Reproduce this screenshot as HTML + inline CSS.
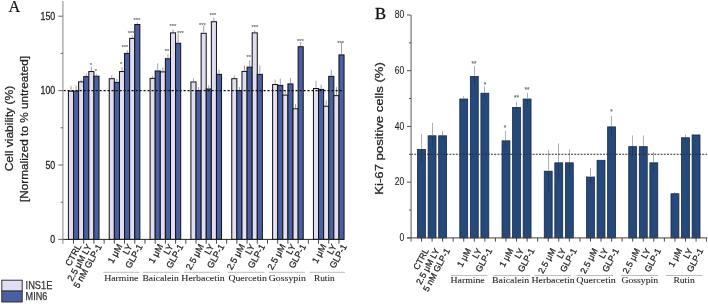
<!DOCTYPE html><html><head><meta charset="utf-8"><style>html,body{margin:0;padding:0;background:#fff;overflow:hidden}svg{display:block;will-change:transform}</style></head><body>
<svg width="708" height="304" viewBox="0 0 708 304">
<text x="8.6" y="11.9" style="font-family:'Liberation Serif',serif;font-size:16.3px" fill="#111" stroke="#111" stroke-width="0.15">A</text>
<text transform="translate(12.9,128.6) rotate(-90)" text-anchor="middle" textLength="85.5" lengthAdjust="spacingAndGlyphs" style="font-family:'Liberation Sans',sans-serif;font-size:11.4px" fill="#222" stroke="#222" stroke-width="0.25">Cell viability (%)</text>
<text transform="translate(27.9,129) rotate(-90)" text-anchor="middle" textLength="146" lengthAdjust="spacingAndGlyphs" style="font-family:'Liberation Sans',sans-serif;font-size:11.4px" fill="#222" stroke="#222" stroke-width="0.25">[Normalized to % untreated]</text>
<rect x="68.4" y="91.2" width="5.1" height="148.2" fill="#e2def2" stroke="#111" stroke-width="1"/>
<rect x="73.5" y="91.2" width="5.1" height="148.2" fill="#4a60a2" stroke="#111" stroke-width="1"/>
<line x1="70.95" x2="70.95" y1="86" y2="90.6" stroke="#888" stroke-width="0.8"/>
<line x1="76.05" x2="76.05" y1="85.3" y2="90.6" stroke="#888" stroke-width="0.8"/>
<rect x="78.61" y="81.83" width="5.1" height="157.57" fill="#e2def2" stroke="#111" stroke-width="1"/>
<rect x="83.71" y="76.62" width="5.1" height="162.78" fill="#4a60a2" stroke="#111" stroke-width="1"/>
<line x1="81.16" x2="81.16" y1="79.53" y2="81.23" stroke="#888" stroke-width="0.8"/>
<line x1="86.26" x2="86.26" y1="73.62" y2="76.02" stroke="#888" stroke-width="0.8"/>
<rect x="88.82" y="71.56" width="5.1" height="167.84" fill="#e2def2" stroke="#111" stroke-width="1"/>
<rect x="93.92" y="76.17" width="5.1" height="163.23" fill="#4a60a2" stroke="#111" stroke-width="1"/>
<line x1="91.37" x2="91.37" y1="66.56" y2="70.96" stroke="#888" stroke-width="0.8"/>
<line x1="96.47" x2="96.47" y1="74.27" y2="75.57" stroke="#888" stroke-width="0.8"/>
<rect x="109.24" y="78.7" width="5.1" height="160.7" fill="#e2def2" stroke="#111" stroke-width="1"/>
<rect x="114.34" y="82.42" width="5.1" height="156.98" fill="#4a60a2" stroke="#111" stroke-width="1"/>
<line x1="111.79" x2="111.79" y1="75.2" y2="78.1" stroke="#888" stroke-width="0.8"/>
<line x1="116.89" x2="116.89" y1="78.82" y2="81.82" stroke="#888" stroke-width="0.8"/>
<rect x="119.45" y="71.56" width="5.1" height="167.84" fill="#e2def2" stroke="#111" stroke-width="1"/>
<rect x="124.55" y="53.4" width="5.1" height="186" fill="#4a60a2" stroke="#111" stroke-width="1"/>
<line x1="122" x2="122" y1="66.96" y2="70.96" stroke="#888" stroke-width="0.8"/>
<line x1="127.1" x2="127.1" y1="50.2" y2="52.8" stroke="#888" stroke-width="0.8"/>
<rect x="129.66" y="38.38" width="5.1" height="201.02" fill="#e2def2" stroke="#111" stroke-width="1"/>
<rect x="134.76" y="24.54" width="5.1" height="214.86" fill="#4a60a2" stroke="#111" stroke-width="1"/>
<line x1="132.21" x2="132.21" y1="35.08" y2="37.78" stroke="#888" stroke-width="0.8"/>
<line x1="137.31" x2="137.31" y1="22.44" y2="23.94" stroke="#888" stroke-width="0.8"/>
<rect x="150.08" y="78.4" width="5.1" height="161" fill="#e2def2" stroke="#111" stroke-width="1"/>
<rect x="155.18" y="70.96" width="5.1" height="168.44" fill="#4a60a2" stroke="#111" stroke-width="1"/>
<line x1="152.63" x2="152.63" y1="75.8" y2="77.8" stroke="#888" stroke-width="0.8"/>
<line x1="157.73" x2="157.73" y1="63.36" y2="70.36" stroke="#888" stroke-width="0.8"/>
<rect x="160.29" y="71.86" width="5.1" height="167.54" fill="#e2def2" stroke="#111" stroke-width="1"/>
<rect x="165.39" y="58.76" width="5.1" height="180.64" fill="#4a60a2" stroke="#111" stroke-width="1"/>
<line x1="162.84" x2="162.84" y1="67.26" y2="71.26" stroke="#888" stroke-width="0.8"/>
<line x1="167.94" x2="167.94" y1="53.96" y2="58.16" stroke="#888" stroke-width="0.8"/>
<rect x="170.5" y="32.87" width="5.1" height="206.53" fill="#e2def2" stroke="#111" stroke-width="1"/>
<rect x="175.6" y="43.29" width="5.1" height="196.11" fill="#4a60a2" stroke="#111" stroke-width="1"/>
<line x1="173.05" x2="173.05" y1="29.27" y2="32.27" stroke="#888" stroke-width="0.8"/>
<line x1="178.15" x2="178.15" y1="33.69" y2="42.69" stroke="#888" stroke-width="0.8"/>
<rect x="190.92" y="81.97" width="5.1" height="157.43" fill="#e2def2" stroke="#111" stroke-width="1"/>
<rect x="196.02" y="90.6" width="5.1" height="148.8" fill="#4a60a2" stroke="#111" stroke-width="1"/>
<line x1="193.47" x2="193.47" y1="78.37" y2="81.37" stroke="#888" stroke-width="0.8"/>
<line x1="198.57" x2="198.57" y1="87" y2="90" stroke="#888" stroke-width="0.8"/>
<rect x="201.13" y="33.32" width="5.1" height="206.08" fill="#e2def2" stroke="#111" stroke-width="1"/>
<rect x="206.23" y="88.97" width="5.1" height="150.43" fill="#4a60a2" stroke="#111" stroke-width="1"/>
<line x1="203.68" x2="203.68" y1="25.52" y2="32.72" stroke="#888" stroke-width="0.8"/>
<line x1="208.78" x2="208.78" y1="85.37" y2="88.37" stroke="#888" stroke-width="0.8"/>
<rect x="211.34" y="21.71" width="5.1" height="217.69" fill="#e2def2" stroke="#111" stroke-width="1"/>
<rect x="216.44" y="74.39" width="5.1" height="165.01" fill="#4a60a2" stroke="#111" stroke-width="1"/>
<line x1="213.89" x2="213.89" y1="17.51" y2="21.11" stroke="#888" stroke-width="0.8"/>
<line x1="218.99" x2="218.99" y1="69.79" y2="73.79" stroke="#888" stroke-width="0.8"/>
<rect x="231.76" y="78.7" width="5.1" height="160.7" fill="#e2def2" stroke="#111" stroke-width="1"/>
<rect x="236.86" y="90.6" width="5.1" height="148.8" fill="#4a60a2" stroke="#111" stroke-width="1"/>
<line x1="234.31" x2="234.31" y1="75.4" y2="78.1" stroke="#888" stroke-width="0.8"/>
<line x1="239.41" x2="239.41" y1="87" y2="90" stroke="#888" stroke-width="0.8"/>
<rect x="241.97" y="71.41" width="5.1" height="167.99" fill="#e2def2" stroke="#111" stroke-width="1"/>
<rect x="247.07" y="67.09" width="5.1" height="172.31" fill="#4a60a2" stroke="#111" stroke-width="1"/>
<line x1="244.52" x2="244.52" y1="65.51" y2="70.81" stroke="#888" stroke-width="0.8"/>
<line x1="249.62" x2="249.62" y1="60.19" y2="66.49" stroke="#888" stroke-width="0.8"/>
<rect x="252.18" y="32.87" width="5.1" height="206.53" fill="#e2def2" stroke="#111" stroke-width="1"/>
<rect x="257.28" y="74.39" width="5.1" height="165.01" fill="#4a60a2" stroke="#111" stroke-width="1"/>
<line x1="254.73" x2="254.73" y1="30.07" y2="32.27" stroke="#888" stroke-width="0.8"/>
<line x1="259.83" x2="259.83" y1="65.59" y2="73.79" stroke="#888" stroke-width="0.8"/>
<rect x="272.6" y="84.5" width="5.1" height="154.9" fill="#e2def2" stroke="#111" stroke-width="1"/>
<rect x="277.7" y="85.4" width="5.1" height="154" fill="#4a60a2" stroke="#111" stroke-width="1"/>
<line x1="275.15" x2="275.15" y1="79.6" y2="83.9" stroke="#888" stroke-width="0.8"/>
<line x1="280.25" x2="280.25" y1="78.6" y2="84.8" stroke="#888" stroke-width="0.8"/>
<rect x="282.81" y="95.07" width="5.1" height="144.33" fill="#e2def2" stroke="#111" stroke-width="1"/>
<rect x="287.91" y="83.91" width="5.1" height="155.49" fill="#4a60a2" stroke="#111" stroke-width="1"/>
<line x1="285.36" x2="285.36" y1="90.47" y2="94.47" stroke="#888" stroke-width="0.8"/>
<line x1="290.46" x2="290.46" y1="77.91" y2="83.31" stroke="#888" stroke-width="0.8"/>
<rect x="293.02" y="108.76" width="5.1" height="130.64" fill="#e2def2" stroke="#111" stroke-width="1"/>
<rect x="298.12" y="46.71" width="5.1" height="192.69" fill="#4a60a2" stroke="#111" stroke-width="1"/>
<line x1="295.57" x2="295.57" y1="103.96" y2="108.16" stroke="#888" stroke-width="0.8"/>
<line x1="300.67" x2="300.67" y1="42.11" y2="46.11" stroke="#888" stroke-width="0.8"/>
<rect x="313.44" y="88.52" width="5.1" height="150.88" fill="#e2def2" stroke="#111" stroke-width="1"/>
<rect x="318.54" y="89.41" width="5.1" height="149.99" fill="#4a60a2" stroke="#111" stroke-width="1"/>
<line x1="315.99" x2="315.99" y1="80.92" y2="87.92" stroke="#888" stroke-width="0.8"/>
<line x1="321.09" x2="321.09" y1="84.61" y2="88.81" stroke="#888" stroke-width="0.8"/>
<rect x="323.65" y="106.23" width="5.1" height="133.17" fill="#e2def2" stroke="#111" stroke-width="1"/>
<rect x="328.75" y="76.32" width="5.1" height="163.08" fill="#4a60a2" stroke="#111" stroke-width="1"/>
<line x1="326.2" x2="326.2" y1="100.33" y2="105.63" stroke="#888" stroke-width="0.8"/>
<line x1="331.3" x2="331.3" y1="69.72" y2="75.72" stroke="#888" stroke-width="0.8"/>
<rect x="333.86" y="95.66" width="5.1" height="143.74" fill="#e2def2" stroke="#111" stroke-width="1"/>
<rect x="338.96" y="54.89" width="5.1" height="184.51" fill="#4a60a2" stroke="#111" stroke-width="1"/>
<line x1="336.41" x2="336.41" y1="86.86" y2="95.06" stroke="#888" stroke-width="0.8"/>
<line x1="341.51" x2="341.51" y1="42.49" y2="54.29" stroke="#888" stroke-width="0.8"/>
<text x="90.9" y="67.2" text-anchor="middle" style="font-family:'Liberation Sans',sans-serif;font-size:5.8px" fill="#666" stroke="#777" stroke-width="0.15">*</text>
<text x="95.8" y="73.1" text-anchor="middle" style="font-family:'Liberation Sans',sans-serif;font-size:5.8px" fill="#666" stroke="#777" stroke-width="0.15">*</text>
<text x="121.25" y="66.2" text-anchor="middle" style="font-family:'Liberation Sans',sans-serif;font-size:5.8px" fill="#666" stroke="#777" stroke-width="0.15">*</text>
<text x="125" y="49.45" text-anchor="middle" style="font-family:'Liberation Sans',sans-serif;font-size:5.8px" fill="#666" stroke="#777" stroke-width="0.15">***</text>
<text x="131.25" y="34.95" text-anchor="middle" style="font-family:'Liberation Sans',sans-serif;font-size:5.8px" fill="#666" stroke="#777" stroke-width="0.15">***</text>
<text x="137" y="22.2" text-anchor="middle" style="font-family:'Liberation Sans',sans-serif;font-size:5.8px" fill="#666" stroke="#777" stroke-width="0.15">***</text>
<text x="167" y="53.2" text-anchor="middle" style="font-family:'Liberation Sans',sans-serif;font-size:5.8px" fill="#666" stroke="#777" stroke-width="0.15">**</text>
<text x="173" y="28.2" text-anchor="middle" style="font-family:'Liberation Sans',sans-serif;font-size:5.8px" fill="#666" stroke="#777" stroke-width="0.15">***</text>
<text x="180.5" y="34.95" text-anchor="middle" style="font-family:'Liberation Sans',sans-serif;font-size:5.8px" fill="#666" stroke="#777" stroke-width="0.15">***</text>
<text x="202.5" y="26.95" text-anchor="middle" style="font-family:'Liberation Sans',sans-serif;font-size:5.8px" fill="#666" stroke="#777" stroke-width="0.15">***</text>
<text x="213" y="16.95" text-anchor="middle" style="font-family:'Liberation Sans',sans-serif;font-size:5.8px" fill="#666" stroke="#777" stroke-width="0.15">***</text>
<text x="248.75" y="58.7" text-anchor="middle" style="font-family:'Liberation Sans',sans-serif;font-size:5.8px" fill="#666" stroke="#777" stroke-width="0.15">**</text>
<text x="255" y="28.7" text-anchor="middle" style="font-family:'Liberation Sans',sans-serif;font-size:5.8px" fill="#666" stroke="#777" stroke-width="0.15">***</text>
<text x="300.5" y="42.7" text-anchor="middle" style="font-family:'Liberation Sans',sans-serif;font-size:5.8px" fill="#666" stroke="#777" stroke-width="0.15">***</text>
<text x="340.7" y="44.8" text-anchor="middle" style="font-family:'Liberation Sans',sans-serif;font-size:5.8px" fill="#666" stroke="#777" stroke-width="0.15">***</text>
<line x1="63.5" x2="343.9" y1="90.6" y2="90.6" stroke="#111" stroke-width="1.2" stroke-dasharray="2.2 1.8"/>
<line x1="62.9" x2="62.9" y1="1" y2="239.9" stroke="#999" stroke-width="1.2"/>
<line x1="62.4" x2="343.9" y1="239.4" y2="239.4" stroke="#222" stroke-width="1"/>
<line x1="58.3" x2="62.9" y1="239.4" y2="239.4" stroke="#666" stroke-width="1"/>
<text transform="translate(55.2,243) scale(0.87,1)" text-anchor="end" style="font-family:'Liberation Sans',sans-serif;font-size:10.1px" fill="#222" stroke="#222" stroke-width="0.25">0</text>
<line x1="58.3" x2="62.9" y1="165" y2="165" stroke="#666" stroke-width="1"/>
<text transform="translate(55.2,168.6) scale(0.87,1)" text-anchor="end" style="font-family:'Liberation Sans',sans-serif;font-size:10.1px" fill="#222" stroke="#222" stroke-width="0.25">50</text>
<line x1="58.3" x2="62.9" y1="90.6" y2="90.6" stroke="#666" stroke-width="1"/>
<text transform="translate(55.2,94.2) scale(0.87,1)" text-anchor="end" style="font-family:'Liberation Sans',sans-serif;font-size:10.1px" fill="#222" stroke="#222" stroke-width="0.25">100</text>
<line x1="58.3" x2="62.9" y1="16.2" y2="16.2" stroke="#666" stroke-width="1"/>
<text transform="translate(55.2,19.8) scale(0.87,1)" text-anchor="end" style="font-family:'Liberation Sans',sans-serif;font-size:10.1px" fill="#222" stroke="#222" stroke-width="0.25">150</text>
<line x1="60.6" x2="62.9" y1="202.2" y2="202.2" stroke="#666" stroke-width="1"/>
<line x1="60.6" x2="62.9" y1="127.8" y2="127.8" stroke="#666" stroke-width="1"/>
<line x1="60.6" x2="62.9" y1="53.4" y2="53.4" stroke="#666" stroke-width="1"/>
<line x1="62.9" x2="62.9" y1="239.4" y2="243.7" stroke="#999" stroke-width="1.2"/>
<line x1="73.5" x2="73.5" y1="239.4" y2="243.7" stroke="#333" stroke-width="0.9"/>
<line x1="83.71" x2="83.71" y1="239.4" y2="243.7" stroke="#333" stroke-width="0.9"/>
<line x1="93.92" x2="93.92" y1="239.4" y2="243.7" stroke="#333" stroke-width="0.9"/>
<line x1="104.13" x2="104.13" y1="239.4" y2="243.7" stroke="#333" stroke-width="0.9"/>
<line x1="114.34" x2="114.34" y1="239.4" y2="243.7" stroke="#333" stroke-width="0.9"/>
<line x1="124.55" x2="124.55" y1="239.4" y2="243.7" stroke="#333" stroke-width="0.9"/>
<line x1="134.76" x2="134.76" y1="239.4" y2="243.7" stroke="#333" stroke-width="0.9"/>
<line x1="144.97" x2="144.97" y1="239.4" y2="243.7" stroke="#333" stroke-width="0.9"/>
<line x1="155.18" x2="155.18" y1="239.4" y2="243.7" stroke="#333" stroke-width="0.9"/>
<line x1="165.39" x2="165.39" y1="239.4" y2="243.7" stroke="#333" stroke-width="0.9"/>
<line x1="175.6" x2="175.6" y1="239.4" y2="243.7" stroke="#333" stroke-width="0.9"/>
<line x1="185.81" x2="185.81" y1="239.4" y2="243.7" stroke="#333" stroke-width="0.9"/>
<line x1="196.02" x2="196.02" y1="239.4" y2="243.7" stroke="#333" stroke-width="0.9"/>
<line x1="206.23" x2="206.23" y1="239.4" y2="243.7" stroke="#333" stroke-width="0.9"/>
<line x1="216.44" x2="216.44" y1="239.4" y2="243.7" stroke="#333" stroke-width="0.9"/>
<line x1="226.65" x2="226.65" y1="239.4" y2="243.7" stroke="#333" stroke-width="0.9"/>
<line x1="236.86" x2="236.86" y1="239.4" y2="243.7" stroke="#333" stroke-width="0.9"/>
<line x1="247.07" x2="247.07" y1="239.4" y2="243.7" stroke="#333" stroke-width="0.9"/>
<line x1="257.28" x2="257.28" y1="239.4" y2="243.7" stroke="#333" stroke-width="0.9"/>
<line x1="267.49" x2="267.49" y1="239.4" y2="243.7" stroke="#333" stroke-width="0.9"/>
<line x1="277.7" x2="277.7" y1="239.4" y2="243.7" stroke="#333" stroke-width="0.9"/>
<line x1="287.91" x2="287.91" y1="239.4" y2="243.7" stroke="#333" stroke-width="0.9"/>
<line x1="298.12" x2="298.12" y1="239.4" y2="243.7" stroke="#333" stroke-width="0.9"/>
<line x1="308.33" x2="308.33" y1="239.4" y2="243.7" stroke="#333" stroke-width="0.9"/>
<line x1="318.54" x2="318.54" y1="239.4" y2="243.7" stroke="#333" stroke-width="0.9"/>
<line x1="328.75" x2="328.75" y1="239.4" y2="243.7" stroke="#333" stroke-width="0.9"/>
<line x1="338.96" x2="338.96" y1="239.4" y2="243.7" stroke="#333" stroke-width="0.9"/>
<text transform="translate(81.7,246.3) rotate(-61)" text-anchor="end" style="font-family:'Liberation Sans',sans-serif;font-size:9.0px" fill="#222" stroke="#222" stroke-width="0.25">CTRL</text>
<text transform="translate(91.91,246.3) rotate(-61)" text-anchor="end" style="font-family:'Liberation Sans',sans-serif;font-size:9.0px" fill="#222" stroke="#222" stroke-width="0.25">2.5 μM LY</text>
<text transform="translate(102.12,246.3) rotate(-61)" text-anchor="end" style="font-family:'Liberation Sans',sans-serif;font-size:9.0px" fill="#222" stroke="#222" stroke-width="0.25">5 nM GLP-1</text>
<text transform="translate(122.54,246.3) rotate(-61)" text-anchor="end" style="font-family:'Liberation Sans',sans-serif;font-size:9.0px" fill="#222" stroke="#222" stroke-width="0.25">1 μM</text>
<text transform="translate(132.75,246.3) rotate(-61)" text-anchor="end" style="font-family:'Liberation Sans',sans-serif;font-size:9.0px" fill="#222" stroke="#222" stroke-width="0.25">LY</text>
<text transform="translate(142.96,246.3) rotate(-61)" text-anchor="end" style="font-family:'Liberation Sans',sans-serif;font-size:9.0px" fill="#222" stroke="#222" stroke-width="0.25">GLP-1</text>
<text transform="translate(163.38,246.3) rotate(-61)" text-anchor="end" style="font-family:'Liberation Sans',sans-serif;font-size:9.0px" fill="#222" stroke="#222" stroke-width="0.25">1 μM</text>
<text transform="translate(173.59,246.3) rotate(-61)" text-anchor="end" style="font-family:'Liberation Sans',sans-serif;font-size:9.0px" fill="#222" stroke="#222" stroke-width="0.25">LY</text>
<text transform="translate(183.8,246.3) rotate(-61)" text-anchor="end" style="font-family:'Liberation Sans',sans-serif;font-size:9.0px" fill="#222" stroke="#222" stroke-width="0.25">GLP-1</text>
<text transform="translate(204.22,246.3) rotate(-61)" text-anchor="end" style="font-family:'Liberation Sans',sans-serif;font-size:9.0px" fill="#222" stroke="#222" stroke-width="0.25">2.5 μM</text>
<text transform="translate(214.43,246.3) rotate(-61)" text-anchor="end" style="font-family:'Liberation Sans',sans-serif;font-size:9.0px" fill="#222" stroke="#222" stroke-width="0.25">LY</text>
<text transform="translate(224.64,246.3) rotate(-61)" text-anchor="end" style="font-family:'Liberation Sans',sans-serif;font-size:9.0px" fill="#222" stroke="#222" stroke-width="0.25">GLP-1</text>
<text transform="translate(245.06,246.3) rotate(-61)" text-anchor="end" style="font-family:'Liberation Sans',sans-serif;font-size:9.0px" fill="#222" stroke="#222" stroke-width="0.25">2.5 μM</text>
<text transform="translate(255.27,246.3) rotate(-61)" text-anchor="end" style="font-family:'Liberation Sans',sans-serif;font-size:9.0px" fill="#222" stroke="#222" stroke-width="0.25">LY</text>
<text transform="translate(265.48,246.3) rotate(-61)" text-anchor="end" style="font-family:'Liberation Sans',sans-serif;font-size:9.0px" fill="#222" stroke="#222" stroke-width="0.25">GLP-1</text>
<text transform="translate(285.9,246.3) rotate(-61)" text-anchor="end" style="font-family:'Liberation Sans',sans-serif;font-size:9.0px" fill="#222" stroke="#222" stroke-width="0.25">2.5 μM</text>
<text transform="translate(296.11,246.3) rotate(-61)" text-anchor="end" style="font-family:'Liberation Sans',sans-serif;font-size:9.0px" fill="#222" stroke="#222" stroke-width="0.25">LY</text>
<text transform="translate(306.32,246.3) rotate(-61)" text-anchor="end" style="font-family:'Liberation Sans',sans-serif;font-size:9.0px" fill="#222" stroke="#222" stroke-width="0.25">GLP-1</text>
<text transform="translate(326.74,246.3) rotate(-61)" text-anchor="end" style="font-family:'Liberation Sans',sans-serif;font-size:9.0px" fill="#222" stroke="#222" stroke-width="0.25">1 μM</text>
<text transform="translate(336.95,246.3) rotate(-61)" text-anchor="end" style="font-family:'Liberation Sans',sans-serif;font-size:9.0px" fill="#222" stroke="#222" stroke-width="0.25">LY</text>
<text transform="translate(347.16,246.3) rotate(-61)" text-anchor="end" style="font-family:'Liberation Sans',sans-serif;font-size:9.0px" fill="#222" stroke="#222" stroke-width="0.25">GLP-1</text>
<line x1="103.3" x2="139.4" y1="272.3" y2="272.3" stroke="#aaa" stroke-width="0.8"/>
<text x="104.2" y="280.5" textLength="34.2" lengthAdjust="spacingAndGlyphs" style="font-family:'Liberation Serif',serif;font-size:8.3px" fill="#1a1a1a" stroke="#333" stroke-width="0.08">Harmine</text>
<line x1="142.7" x2="179.4" y1="272.3" y2="272.3" stroke="#aaa" stroke-width="0.8"/>
<text x="142.4" y="280.5" textLength="36.3" lengthAdjust="spacingAndGlyphs" style="font-family:'Liberation Serif',serif;font-size:8.3px" fill="#1a1a1a" stroke="#333" stroke-width="0.08">Baicalein</text>
<line x1="183.6" x2="220.1" y1="272.3" y2="272.3" stroke="#aaa" stroke-width="0.8"/>
<text x="181.3" y="280.5" textLength="43.4" lengthAdjust="spacingAndGlyphs" style="font-family:'Liberation Serif',serif;font-size:8.3px" fill="#1a1a1a" stroke="#333" stroke-width="0.08">Herbacetin</text>
<line x1="227.7" x2="264.4" y1="272.3" y2="272.3" stroke="#aaa" stroke-width="0.8"/>
<text x="228.4" y="280.5" textLength="38.6" lengthAdjust="spacingAndGlyphs" style="font-family:'Liberation Serif',serif;font-size:8.3px" fill="#1a1a1a" stroke="#333" stroke-width="0.08">Quercetin</text>
<line x1="268.8" x2="305" y1="272.3" y2="272.3" stroke="#aaa" stroke-width="0.8"/>
<text x="268.8" y="280.5" textLength="37" lengthAdjust="spacingAndGlyphs" style="font-family:'Liberation Serif',serif;font-size:8.3px" fill="#1a1a1a" stroke="#333" stroke-width="0.08">Gossypin</text>
<line x1="309.5" x2="345.1" y1="272.3" y2="272.3" stroke="#aaa" stroke-width="0.8"/>
<text x="313.9" y="280.5" textLength="20.9" lengthAdjust="spacingAndGlyphs" style="font-family:'Liberation Serif',serif;font-size:8.3px" fill="#1a1a1a" stroke="#333" stroke-width="0.08">Rutin</text>
<rect x="1.8" y="280.2" width="20.4" height="10.9" fill="#e2def2" stroke="#333" stroke-width="1"/>
<rect x="1.8" y="291.1" width="20.4" height="10.9" fill="#4a60a2" stroke="#333" stroke-width="1"/>
<text x="25.6" y="288.7" textLength="26.8" lengthAdjust="spacingAndGlyphs" style="font-family:'Liberation Sans',sans-serif;font-size:10.7px" fill="#333" stroke="#333" stroke-width="0.25">INS1E</text>
<text x="25.6" y="299.6" textLength="21.8" lengthAdjust="spacingAndGlyphs" style="font-family:'Liberation Sans',sans-serif;font-size:10.7px" fill="#333" stroke="#333" stroke-width="0.25">MIN6</text>
<text x="375" y="18.8" style="font-family:'Liberation Serif',serif;font-size:16.5px" fill="#111" stroke="#111" stroke-width="0.35">B</text>
<text transform="translate(382.8,128.4) rotate(-90)" text-anchor="middle" textLength="132.5" lengthAdjust="spacingAndGlyphs" style="font-family:'Liberation Sans',sans-serif;font-size:11.6px" fill="#222" stroke="#222" stroke-width="0.25">Ki-67 positive cells (%)</text>
<rect x="417.55" y="149.45" width="7.9" height="88.45" fill="#24497a" stroke="#1a2a40" stroke-width="0.8"/>
<line x1="421.5" x2="421.5" y1="134.25" y2="148.75" stroke="#b0b0b0" stroke-width="1"/>
<line x1="421.5" x2="421.5" y1="149.45" y2="163.25" stroke="#1c3a62" stroke-width="0.9"/>
<rect x="428.11" y="135.8" width="7.9" height="102.1" fill="#24497a" stroke="#1a2a40" stroke-width="0.8"/>
<line x1="432.5" x2="432.5" y1="122.9" y2="135.1" stroke="#b0b0b0" stroke-width="1"/>
<line x1="432.5" x2="432.5" y1="135.8" y2="147.3" stroke="#1c3a62" stroke-width="0.9"/>
<rect x="438.67" y="135.8" width="7.9" height="102.1" fill="#24497a" stroke="#1a2a40" stroke-width="0.8"/>
<line x1="442.5" x2="442.5" y1="130.8" y2="135.1" stroke="#b0b0b0" stroke-width="1"/>
<line x1="442.5" x2="442.5" y1="135.8" y2="139.4" stroke="#1c3a62" stroke-width="0.9"/>
<rect x="459.79" y="99.02" width="7.9" height="138.88" fill="#24497a" stroke="#1a2a40" stroke-width="0.8"/>
<line x1="463.5" x2="463.5" y1="95.82" y2="98.32" stroke="#b0b0b0" stroke-width="1"/>
<line x1="463.5" x2="463.5" y1="99.02" y2="100.82" stroke="#1c3a62" stroke-width="0.9"/>
<rect x="470.35" y="76.45" width="7.9" height="161.45" fill="#24497a" stroke="#1a2a40" stroke-width="0.8"/>
<line x1="474.5" x2="474.5" y1="65.75" y2="75.75" stroke="#b0b0b0" stroke-width="1"/>
<line x1="474.5" x2="474.5" y1="76.45" y2="85.75" stroke="#1c3a62" stroke-width="0.9"/>
<rect x="480.91" y="93.17" width="7.9" height="144.73" fill="#24497a" stroke="#1a2a40" stroke-width="0.8"/>
<line x1="484.5" x2="484.5" y1="86.47" y2="92.47" stroke="#b0b0b0" stroke-width="1"/>
<line x1="484.5" x2="484.5" y1="93.17" y2="98.47" stroke="#1c3a62" stroke-width="0.9"/>
<rect x="502.03" y="140.81" width="7.9" height="97.09" fill="#24497a" stroke="#1a2a40" stroke-width="0.8"/>
<line x1="505.5" x2="505.5" y1="130.86" y2="140.11" stroke="#b0b0b0" stroke-width="1"/>
<line x1="505.5" x2="505.5" y1="140.81" y2="149.36" stroke="#1c3a62" stroke-width="0.9"/>
<rect x="512.59" y="107.38" width="7.9" height="130.52" fill="#24497a" stroke="#1a2a40" stroke-width="0.8"/>
<line x1="516.5" x2="516.5" y1="101.68" y2="106.68" stroke="#b0b0b0" stroke-width="1"/>
<line x1="516.5" x2="516.5" y1="107.38" y2="111.68" stroke="#1c3a62" stroke-width="0.9"/>
<rect x="523.15" y="99.02" width="7.9" height="138.88" fill="#24497a" stroke="#1a2a40" stroke-width="0.8"/>
<line x1="527.5" x2="527.5" y1="92.57" y2="98.32" stroke="#b0b0b0" stroke-width="1"/>
<line x1="527.5" x2="527.5" y1="99.02" y2="104.07" stroke="#1c3a62" stroke-width="0.9"/>
<rect x="544.27" y="171.18" width="7.9" height="66.72" fill="#24497a" stroke="#1a2a40" stroke-width="0.8"/>
<line x1="548.5" x2="548.5" y1="149.73" y2="170.48" stroke="#b0b0b0" stroke-width="1"/>
<line x1="548.5" x2="548.5" y1="171.18" y2="191.23" stroke="#1c3a62" stroke-width="0.9"/>
<rect x="554.83" y="162.82" width="7.9" height="75.08" fill="#24497a" stroke="#1a2a40" stroke-width="0.8"/>
<line x1="558.5" x2="558.5" y1="143.37" y2="162.12" stroke="#b0b0b0" stroke-width="1"/>
<line x1="558.5" x2="558.5" y1="162.82" y2="180.87" stroke="#1c3a62" stroke-width="0.9"/>
<rect x="565.39" y="162.82" width="7.9" height="75.08" fill="#24497a" stroke="#1a2a40" stroke-width="0.8"/>
<line x1="569.5" x2="569.5" y1="149.12" y2="162.12" stroke="#b0b0b0" stroke-width="1"/>
<line x1="569.5" x2="569.5" y1="162.82" y2="175.12" stroke="#1c3a62" stroke-width="0.9"/>
<rect x="586.51" y="177.03" width="7.9" height="60.87" fill="#24497a" stroke="#1a2a40" stroke-width="0.8"/>
<line x1="590.5" x2="590.5" y1="167.83" y2="176.33" stroke="#b0b0b0" stroke-width="1"/>
<line x1="590.5" x2="590.5" y1="177.03" y2="184.83" stroke="#1c3a62" stroke-width="0.9"/>
<rect x="597.07" y="160.31" width="7.9" height="77.59" fill="#24497a" stroke="#1a2a40" stroke-width="0.8"/>
<rect x="607.63" y="126.88" width="7.9" height="111.02" fill="#24497a" stroke="#1a2a40" stroke-width="0.8"/>
<line x1="611.5" x2="611.5" y1="115.93" y2="126.18" stroke="#b0b0b0" stroke-width="1"/>
<line x1="611.5" x2="611.5" y1="126.88" y2="136.43" stroke="#1c3a62" stroke-width="0.9"/>
<rect x="628.75" y="146.66" width="7.9" height="91.24" fill="#24497a" stroke="#1a2a40" stroke-width="0.8"/>
<line x1="632.5" x2="632.5" y1="135.46" y2="145.96" stroke="#b0b0b0" stroke-width="1"/>
<line x1="632.5" x2="632.5" y1="146.66" y2="156.46" stroke="#1c3a62" stroke-width="0.9"/>
<rect x="639.31" y="146.66" width="7.9" height="91.24" fill="#24497a" stroke="#1a2a40" stroke-width="0.8"/>
<line x1="643.5" x2="643.5" y1="135.46" y2="145.96" stroke="#b0b0b0" stroke-width="1"/>
<line x1="643.5" x2="643.5" y1="146.66" y2="156.46" stroke="#1c3a62" stroke-width="0.9"/>
<rect x="649.87" y="162.82" width="7.9" height="75.08" fill="#24497a" stroke="#1a2a40" stroke-width="0.8"/>
<line x1="653.5" x2="653.5" y1="152.12" y2="162.12" stroke="#b0b0b0" stroke-width="1"/>
<line x1="653.5" x2="653.5" y1="162.82" y2="172.12" stroke="#1c3a62" stroke-width="0.9"/>
<rect x="670.99" y="193.75" width="7.9" height="44.15" fill="#24497a" stroke="#1a2a40" stroke-width="0.8"/>
<line x1="674.5" x2="674.5" y1="192.05" y2="193.05" stroke="#b0b0b0" stroke-width="1"/>
<line x1="674.5" x2="674.5" y1="193.75" y2="194.05" stroke="#1c3a62" stroke-width="0.9"/>
<rect x="681.55" y="137.75" width="7.9" height="100.15" fill="#24497a" stroke="#1a2a40" stroke-width="0.8"/>
<line x1="685.5" x2="685.5" y1="134.55" y2="137.05" stroke="#b0b0b0" stroke-width="1"/>
<line x1="685.5" x2="685.5" y1="137.75" y2="139.55" stroke="#1c3a62" stroke-width="0.9"/>
<rect x="692.11" y="134.96" width="7.9" height="102.94" fill="#24497a" stroke="#1a2a40" stroke-width="0.8"/>
<text x="474" y="65.6" text-anchor="middle" style="font-family:'Liberation Sans',sans-serif;font-size:6.3px" fill="#666" stroke="#777" stroke-width="0.15">**</text>
<text x="485" y="86.6" text-anchor="middle" style="font-family:'Liberation Sans',sans-serif;font-size:6.3px" fill="#666" stroke="#777" stroke-width="0.15">*</text>
<text x="505" y="129.6" text-anchor="middle" style="font-family:'Liberation Sans',sans-serif;font-size:6.3px" fill="#666" stroke="#777" stroke-width="0.15">*</text>
<text x="516.5" y="100.35" text-anchor="middle" style="font-family:'Liberation Sans',sans-serif;font-size:6.3px" fill="#666" stroke="#777" stroke-width="0.15">**</text>
<text x="527" y="91.85" text-anchor="middle" style="font-family:'Liberation Sans',sans-serif;font-size:6.3px" fill="#666" stroke="#777" stroke-width="0.15">**</text>
<text x="611.5" y="114.35" text-anchor="middle" style="font-family:'Liberation Sans',sans-serif;font-size:6.3px" fill="#666" stroke="#777" stroke-width="0.15">*</text>
<line x1="411" x2="707" y1="154.32" y2="154.32" stroke="#333" stroke-width="1.1" stroke-dasharray="2 1.2"/>
<line x1="411.1" x2="411.1" y1="15.02" y2="237.9" stroke="#666" stroke-width="1.1"/>
<line x1="407" x2="707.2" y1="237.9" y2="237.9" stroke="#444" stroke-width="1"/>
<line x1="407" x2="411" y1="237.9" y2="237.9" stroke="#555" stroke-width="1"/>
<text transform="translate(404.3,241.1) scale(0.85,1)" text-anchor="end" style="font-family:'Liberation Sans',sans-serif;font-size:10px" fill="#222" stroke="#222" stroke-width="0.1">0</text>
<line x1="407" x2="411" y1="182.18" y2="182.18" stroke="#555" stroke-width="1"/>
<text transform="translate(404.3,185.38) scale(0.85,1)" text-anchor="end" style="font-family:'Liberation Sans',sans-serif;font-size:10px" fill="#222" stroke="#222" stroke-width="0.1">20</text>
<line x1="407" x2="411" y1="126.46" y2="126.46" stroke="#555" stroke-width="1"/>
<text transform="translate(404.3,129.66) scale(0.85,1)" text-anchor="end" style="font-family:'Liberation Sans',sans-serif;font-size:10px" fill="#222" stroke="#222" stroke-width="0.1">40</text>
<line x1="407" x2="411" y1="70.74" y2="70.74" stroke="#555" stroke-width="1"/>
<text transform="translate(404.3,73.94) scale(0.85,1)" text-anchor="end" style="font-family:'Liberation Sans',sans-serif;font-size:10px" fill="#222" stroke="#222" stroke-width="0.1">60</text>
<line x1="407" x2="411" y1="15.02" y2="15.02" stroke="#555" stroke-width="1"/>
<text transform="translate(404.3,18.22) scale(0.85,1)" text-anchor="end" style="font-family:'Liberation Sans',sans-serif;font-size:10px" fill="#222" stroke="#222" stroke-width="0.1">80</text>
<line x1="409" x2="411" y1="210.04" y2="210.04" stroke="#555" stroke-width="1"/>
<line x1="409" x2="411" y1="154.32" y2="154.32" stroke="#555" stroke-width="1"/>
<line x1="409" x2="411" y1="98.6" y2="98.6" stroke="#555" stroke-width="1"/>
<line x1="409" x2="411" y1="42.88" y2="42.88" stroke="#555" stroke-width="1"/>
<line x1="411.1" x2="411.1" y1="237.9" y2="241.4" stroke="#666" stroke-width="1.1"/>
<line x1="421.5" x2="421.5" y1="237.9" y2="241.6" stroke="#333" stroke-width="0.9"/>
<line x1="432.06" x2="432.06" y1="237.9" y2="241.6" stroke="#333" stroke-width="0.9"/>
<line x1="442.62" x2="442.62" y1="237.9" y2="241.6" stroke="#333" stroke-width="0.9"/>
<line x1="453.18" x2="453.18" y1="237.9" y2="241.6" stroke="#333" stroke-width="0.9"/>
<line x1="463.74" x2="463.74" y1="237.9" y2="241.6" stroke="#333" stroke-width="0.9"/>
<line x1="474.3" x2="474.3" y1="237.9" y2="241.6" stroke="#333" stroke-width="0.9"/>
<line x1="484.86" x2="484.86" y1="237.9" y2="241.6" stroke="#333" stroke-width="0.9"/>
<line x1="495.42" x2="495.42" y1="237.9" y2="241.6" stroke="#333" stroke-width="0.9"/>
<line x1="505.98" x2="505.98" y1="237.9" y2="241.6" stroke="#333" stroke-width="0.9"/>
<line x1="516.54" x2="516.54" y1="237.9" y2="241.6" stroke="#333" stroke-width="0.9"/>
<line x1="527.1" x2="527.1" y1="237.9" y2="241.6" stroke="#333" stroke-width="0.9"/>
<line x1="537.66" x2="537.66" y1="237.9" y2="241.6" stroke="#333" stroke-width="0.9"/>
<line x1="548.22" x2="548.22" y1="237.9" y2="241.6" stroke="#333" stroke-width="0.9"/>
<line x1="558.78" x2="558.78" y1="237.9" y2="241.6" stroke="#333" stroke-width="0.9"/>
<line x1="569.34" x2="569.34" y1="237.9" y2="241.6" stroke="#333" stroke-width="0.9"/>
<line x1="579.9" x2="579.9" y1="237.9" y2="241.6" stroke="#333" stroke-width="0.9"/>
<line x1="590.46" x2="590.46" y1="237.9" y2="241.6" stroke="#333" stroke-width="0.9"/>
<line x1="601.02" x2="601.02" y1="237.9" y2="241.6" stroke="#333" stroke-width="0.9"/>
<line x1="611.58" x2="611.58" y1="237.9" y2="241.6" stroke="#333" stroke-width="0.9"/>
<line x1="622.14" x2="622.14" y1="237.9" y2="241.6" stroke="#333" stroke-width="0.9"/>
<line x1="632.7" x2="632.7" y1="237.9" y2="241.6" stroke="#333" stroke-width="0.9"/>
<line x1="643.26" x2="643.26" y1="237.9" y2="241.6" stroke="#333" stroke-width="0.9"/>
<line x1="653.82" x2="653.82" y1="237.9" y2="241.6" stroke="#333" stroke-width="0.9"/>
<line x1="664.38" x2="664.38" y1="237.9" y2="241.6" stroke="#333" stroke-width="0.9"/>
<line x1="674.94" x2="674.94" y1="237.9" y2="241.6" stroke="#333" stroke-width="0.9"/>
<line x1="685.5" x2="685.5" y1="237.9" y2="241.6" stroke="#333" stroke-width="0.9"/>
<line x1="696.06" x2="696.06" y1="237.9" y2="241.6" stroke="#333" stroke-width="0.9"/>
<line x1="706.62" x2="706.62" y1="237.9" y2="241.6" stroke="#333" stroke-width="0.9"/>
<text transform="translate(429.1,250.3) rotate(-62)" text-anchor="end" style="font-family:'Liberation Sans',sans-serif;font-size:8.8px" fill="#222" stroke="#222" stroke-width="0.25">CTRL</text>
<text transform="translate(439.66,250.3) rotate(-62)" text-anchor="end" style="font-family:'Liberation Sans',sans-serif;font-size:8.8px" fill="#222" stroke="#222" stroke-width="0.25">2.5 μM LY</text>
<text transform="translate(450.22,250.3) rotate(-62)" text-anchor="end" style="font-family:'Liberation Sans',sans-serif;font-size:8.8px" fill="#222" stroke="#222" stroke-width="0.25">5 nM GLP-1</text>
<text transform="translate(471.34,250.3) rotate(-62)" text-anchor="end" style="font-family:'Liberation Sans',sans-serif;font-size:8.8px" fill="#222" stroke="#222" stroke-width="0.25">1 μM</text>
<text transform="translate(481.9,250.3) rotate(-62)" text-anchor="end" style="font-family:'Liberation Sans',sans-serif;font-size:8.8px" fill="#222" stroke="#222" stroke-width="0.25">LY</text>
<text transform="translate(492.46,250.3) rotate(-62)" text-anchor="end" style="font-family:'Liberation Sans',sans-serif;font-size:8.8px" fill="#222" stroke="#222" stroke-width="0.25">GLP-1</text>
<text transform="translate(513.58,250.3) rotate(-62)" text-anchor="end" style="font-family:'Liberation Sans',sans-serif;font-size:8.8px" fill="#222" stroke="#222" stroke-width="0.25">1 μM</text>
<text transform="translate(524.14,250.3) rotate(-62)" text-anchor="end" style="font-family:'Liberation Sans',sans-serif;font-size:8.8px" fill="#222" stroke="#222" stroke-width="0.25">LY</text>
<text transform="translate(534.7,250.3) rotate(-62)" text-anchor="end" style="font-family:'Liberation Sans',sans-serif;font-size:8.8px" fill="#222" stroke="#222" stroke-width="0.25">GLP-1</text>
<text transform="translate(555.82,250.3) rotate(-62)" text-anchor="end" style="font-family:'Liberation Sans',sans-serif;font-size:8.8px" fill="#222" stroke="#222" stroke-width="0.25">2.5 μM</text>
<text transform="translate(566.38,250.3) rotate(-62)" text-anchor="end" style="font-family:'Liberation Sans',sans-serif;font-size:8.8px" fill="#222" stroke="#222" stroke-width="0.25">LY</text>
<text transform="translate(576.94,250.3) rotate(-62)" text-anchor="end" style="font-family:'Liberation Sans',sans-serif;font-size:8.8px" fill="#222" stroke="#222" stroke-width="0.25">GLP-1</text>
<text transform="translate(598.06,250.3) rotate(-62)" text-anchor="end" style="font-family:'Liberation Sans',sans-serif;font-size:8.8px" fill="#222" stroke="#222" stroke-width="0.25">2.5 μM</text>
<text transform="translate(608.62,250.3) rotate(-62)" text-anchor="end" style="font-family:'Liberation Sans',sans-serif;font-size:8.8px" fill="#222" stroke="#222" stroke-width="0.25">LY</text>
<text transform="translate(619.18,250.3) rotate(-62)" text-anchor="end" style="font-family:'Liberation Sans',sans-serif;font-size:8.8px" fill="#222" stroke="#222" stroke-width="0.25">GLP-1</text>
<text transform="translate(640.3,250.3) rotate(-62)" text-anchor="end" style="font-family:'Liberation Sans',sans-serif;font-size:8.8px" fill="#222" stroke="#222" stroke-width="0.25">2.5 μM</text>
<text transform="translate(650.86,250.3) rotate(-62)" text-anchor="end" style="font-family:'Liberation Sans',sans-serif;font-size:8.8px" fill="#222" stroke="#222" stroke-width="0.25">LY</text>
<text transform="translate(661.42,250.3) rotate(-62)" text-anchor="end" style="font-family:'Liberation Sans',sans-serif;font-size:8.8px" fill="#222" stroke="#222" stroke-width="0.25">GLP-1</text>
<text transform="translate(682.54,250.3) rotate(-62)" text-anchor="end" style="font-family:'Liberation Sans',sans-serif;font-size:8.8px" fill="#222" stroke="#222" stroke-width="0.25">1 μM</text>
<text transform="translate(693.1,250.3) rotate(-62)" text-anchor="end" style="font-family:'Liberation Sans',sans-serif;font-size:8.8px" fill="#222" stroke="#222" stroke-width="0.25">LY</text>
<text transform="translate(703.66,250.3) rotate(-62)" text-anchor="end" style="font-family:'Liberation Sans',sans-serif;font-size:8.8px" fill="#222" stroke="#222" stroke-width="0.25">GLP-1</text>
<line x1="450.9" x2="487.5" y1="275.5" y2="275.5" stroke="#aaa" stroke-width="0.8"/>
<text x="450.5" y="283.3" textLength="34.2" lengthAdjust="spacingAndGlyphs" style="font-family:'Liberation Serif',serif;font-size:8.3px" fill="#1a1a1a" stroke="#333" stroke-width="0.08">Harmine</text>
<line x1="493.4" x2="530" y1="275.5" y2="275.5" stroke="#aaa" stroke-width="0.8"/>
<text x="492" y="283.3" textLength="37.2" lengthAdjust="spacingAndGlyphs" style="font-family:'Liberation Serif',serif;font-size:8.3px" fill="#1a1a1a" stroke="#333" stroke-width="0.08">Baicalein</text>
<line x1="534.4" x2="570.6" y1="275.5" y2="275.5" stroke="#aaa" stroke-width="0.8"/>
<text x="531.4" y="283.3" textLength="43.3" lengthAdjust="spacingAndGlyphs" style="font-family:'Liberation Serif',serif;font-size:8.3px" fill="#1a1a1a" stroke="#333" stroke-width="0.08">Herbacetin</text>
<line x1="576.3" x2="613.1" y1="275.5" y2="275.5" stroke="#aaa" stroke-width="0.8"/>
<text x="576.3" y="283.3" textLength="39.4" lengthAdjust="spacingAndGlyphs" style="font-family:'Liberation Serif',serif;font-size:8.3px" fill="#1a1a1a" stroke="#333" stroke-width="0.08">Quercetin</text>
<line x1="621" x2="658" y1="275.5" y2="275.5" stroke="#aaa" stroke-width="0.8"/>
<text x="621.4" y="283.3" textLength="36.8" lengthAdjust="spacingAndGlyphs" style="font-family:'Liberation Serif',serif;font-size:8.3px" fill="#1a1a1a" stroke="#333" stroke-width="0.08">Gossypin</text>
<line x1="665.9" x2="702.5" y1="275.5" y2="275.5" stroke="#aaa" stroke-width="0.8"/>
<text x="673.4" y="283.3" textLength="21.4" lengthAdjust="spacingAndGlyphs" style="font-family:'Liberation Serif',serif;font-size:8.3px" fill="#1a1a1a" stroke="#333" stroke-width="0.08">Rutin</text>
</svg></body></html>
